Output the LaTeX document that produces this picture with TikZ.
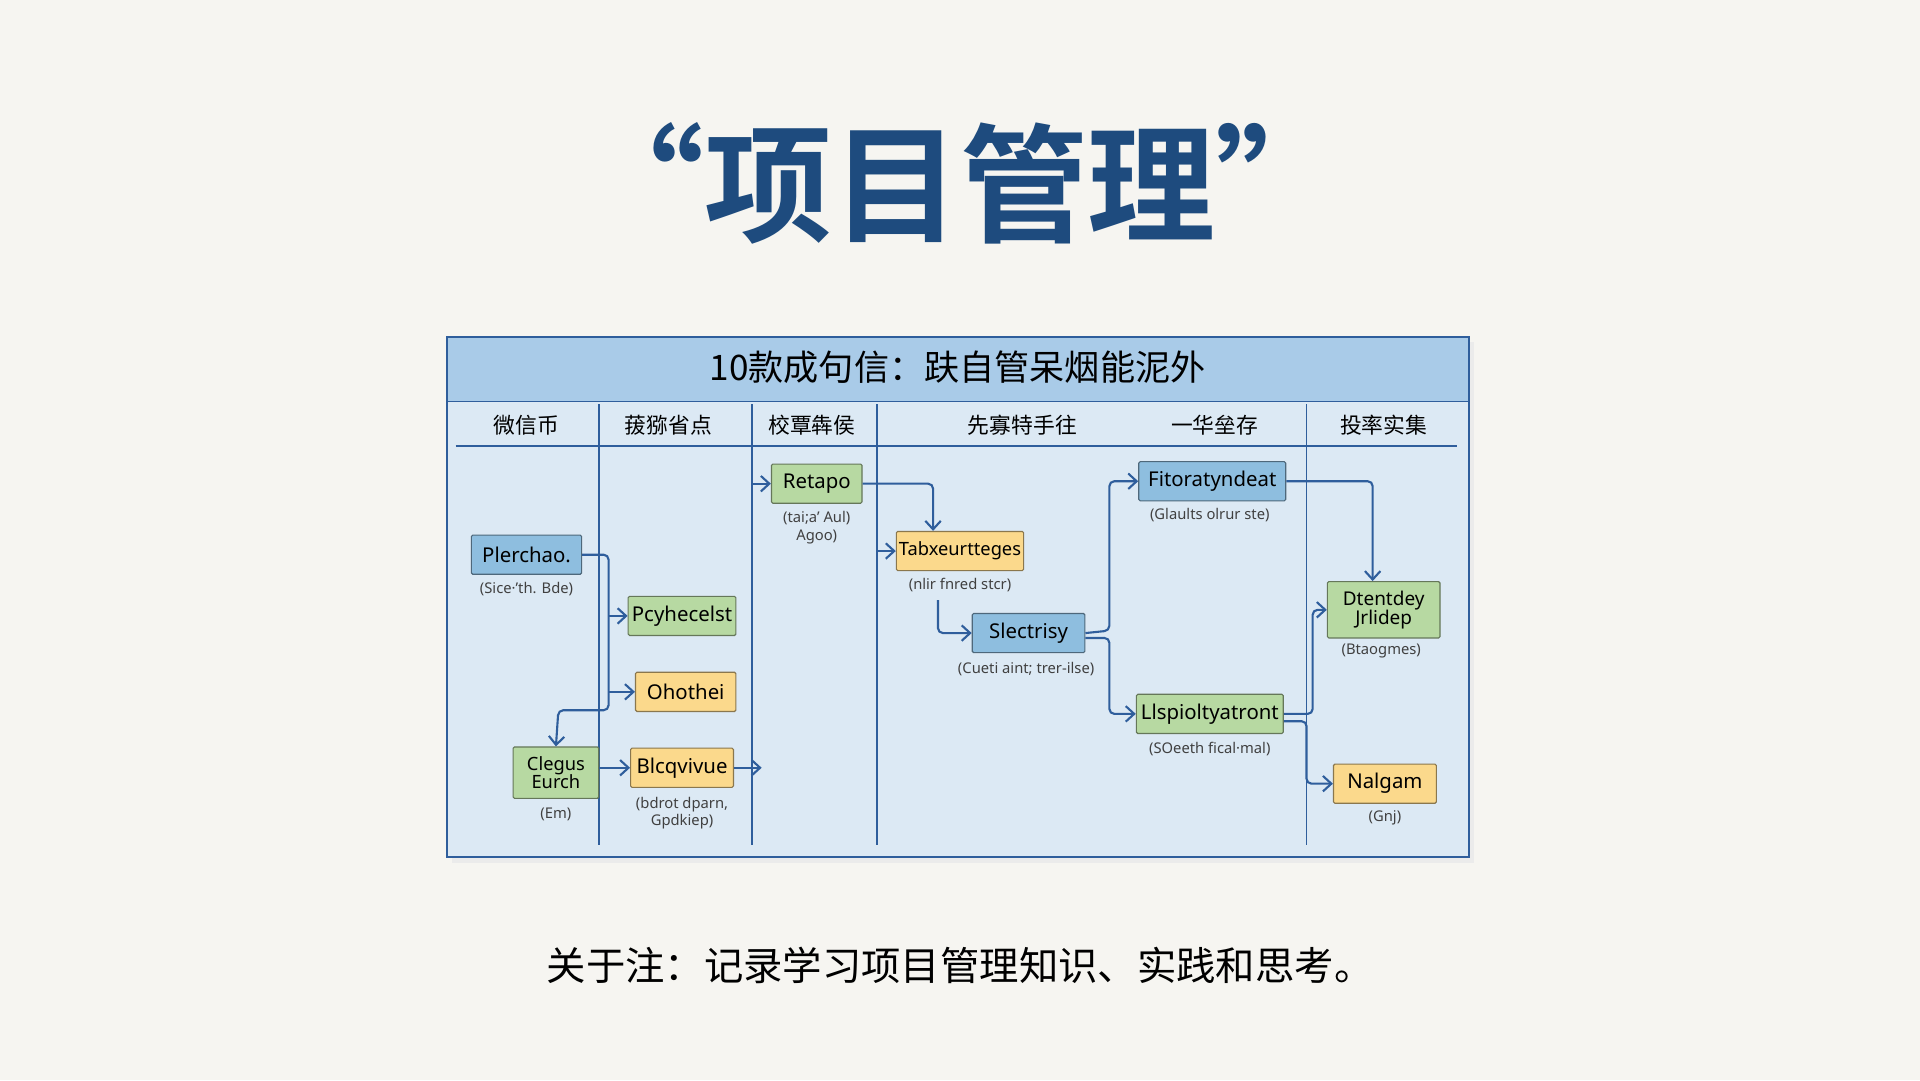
\documentclass[tikz,border=0pt]{standalone}
\usepackage{fontspec}
\setmainfont{Noto Sans}
\newfontfamily\cjk{Noto Sans CJK SC}
\newfontfamily\cjkb{Noto Sans CJK SC Bold}
\usetikzlibrary{arrows.meta,positioning,calc}
\definecolor{paper}{HTML}{F6F5F1}
\definecolor{navy}{HTML}{1E4B7E}
\definecolor{wire}{HTML}{2F5E9C}
\definecolor{band}{HTML}{A9CBE8}
\definecolor{panel}{HTML}{DCE9F4}
\definecolor{bluebox}{HTML}{8EBEDF}
\definecolor{greenbox}{HTML}{B7D9A2}
\definecolor{orangebox}{HTML}{FBD98C}
\newcommand\ux{0.06122cm}
\tikzset{
  box/.style={draw=#1!55!black, fill=#1, rounded corners=2pt, line width=1.6pt,
    inner sep=0pt, minimum height=32*\ux, align=center,
    font=\fontsize{29}{31}\selectfont},
  note/.style={font=\fontsize{21}{25}\selectfont, text=black!75, align=center, inner sep=0pt},
  flow/.style={draw=wire, line width=3pt, rounded corners=7pt, -{Straight Barb[length=12pt,width=22pt,line width=3pt]}},
  colhead/.style={font=\cjk\fontsize{31}{33}\selectfont}
}
\begin{document}
\begin{tikzpicture}[x=\ux,y=-\ux]
  \fill[paper] (0,0) rectangle (1568,882);
  \useasboundingbox (0,0) rectangle (1568,882);
  % title
  \node[text=navy, font=\cjkb\fontsize{182}{184}\selectfont] (title) at (784,150) {“项目管理”};
  % table
  \fill[black!8] (369,279) rectangle (1204,705);
  \fill[panel] (365,275) rectangle (1200,700);
  \fill[band] (365,275) rectangle (1200,328);
  \draw[wire, line width=2.6pt] (365,275) rectangle (1200,700);
  \draw[wire, line width=2.4pt] (365,328) -- (1200,328);
  \draw[wire, line width=2.4pt] (372,364) -- (1190,364);
  \foreach \x in {489, 614, 716, 1067}
    \draw[wire, line width=2.4pt] (\x,330) -- (\x,690);
  \node[font=\cjk\fontsize{50}{52}\selectfont] (caption) at (782,300) {10款成句信：趺自管呆烟能泥外};
  \node[colhead] (h1) at (430,347) {微信币};
  \node[colhead] (h2) at (546,347) {菝猕省点};
  \node[colhead] (h3) at (663,347) {校覃犇侯};
  \node[colhead] (h4) at (835,347) {先寡特手往};
  \node[colhead] (h5) at (992,347) {一华垒存};
  \node[colhead] (h6) at (1130,347) {投率实集};
  % boxes
  \node[box=bluebox, minimum width=90*\ux] (plerchao) at (430,453) {Plerchao.};
  \node[note] (plerchaoN) at (430,481) {(Sice·'th. Bde)};
  \node[box=greenbox, minimum width=88*\ux] (pcyhe) at (557,503) {Pcyhecelst};
  \node[box=orangebox, minimum width=82*\ux] (ohothei) at (560,565) {Ohothei};
  \node[box=greenbox, minimum width=70*\ux, minimum height=42*\ux, font=\fontsize{26}{26}\selectfont] (clegus) at (454,631) {Clegus\\Eurch};
  \node[note] (clegusN) at (454,665) {(Em)};
  \node[box=orangebox, minimum width=84*\ux] (blcq) at (557,627) {Blcqvivue};
  \node[note] (blcqN) at (557,664) {(bdrot dparn,\\Gpdkiep)};
  \node[box=greenbox, minimum width=74*\ux] (retapo) at (667,395) {Retapo};
  \node[note] (retapoN) at (667,431) {(tai;a' Aul)\\Agoo)};
  \node[box=orangebox, minimum width=104*\ux, font=\fontsize{26}{28}\selectfont] (tabx) at (784,450) {Tabxeurtteges};
  \node[note] (tabxN) at (784,478) {(nlir fnred stcr)};
  \node[box=bluebox, minimum width=92*\ux] (slect) at (840,517) {Slectrisy};
  \node[note] (slectN) at (838,546) {(Cueti aint; trer-ilse)};
  \node[box=bluebox, minimum width=120*\ux] (fitor) at (990,393) {Fitoratyndeat};
  \node[note] (fitorN) at (988,421) {(Glaults olrur  ste)};
  \node[box=greenbox, minimum width=120*\ux] (llspio) at (988,583) {Llspioltyatront};
  \node[note] (llspioN) at (988,612) {(SOeeth fical·mal)};
  \node[box=greenbox, minimum width=92*\ux, minimum height=46*\ux, font=\fontsize{27}{27}\selectfont] (dtent) at (1130,498) {Dtentdey\\Jrlidep};
  \node[note] (dtentN) at (1128,532) {(Btaogmes)};
  \node[box=orangebox, minimum width=84*\ux] (nalgam) at (1131,640) {Nalgam};
  \node[note] (nalgamN) at (1131,668) {(Gnj)};
  % connectors
  \coordinate (trunk) at (497,453);
  \draw[flow] (plerchao.east) -- (trunk) -- (497,580) -- (456,580) -- (clegus.north);
  \draw[flow] (497,503) -- (pcyhe.west);
  \draw[flow] (497,565) -- (ohothei.west);
  \draw[flow] (clegus.east |- blcq.west) -- (blcq.west);
  \draw[flow] (blcq.east) -- (622,627);
  \draw[flow] (614,395) -- (retapo.west);
  \draw[flow] (retapo.east) -| (tabx.north -| 762,0);
  \draw[flow] (716,450) -- (tabx.west);
  \draw[flow] (766,490) |- (slect.west);
  \draw[flow] (slect.east) -- (906,515) |- (fitor.west);
  \draw[flow] (slect.east) ++(0,4) -- (906,521) |- (llspio.west);
  \draw[flow] (fitor.east) -| (dtent.north -| 1121,0);
  \draw[flow] (llspio.east) -- (1072,583) |- (dtent.west);
  \draw[flow] (llspio.east) ++(0,6) -- (1067,589) |- (nalgam.west);
  % footer
  \node[font=\cjk\fontsize{56}{58}\selectfont] (footer) at (784,788) {关于注：记录学习项目管理知识、实践和思考。};
\end{tikzpicture}
\end{document}
